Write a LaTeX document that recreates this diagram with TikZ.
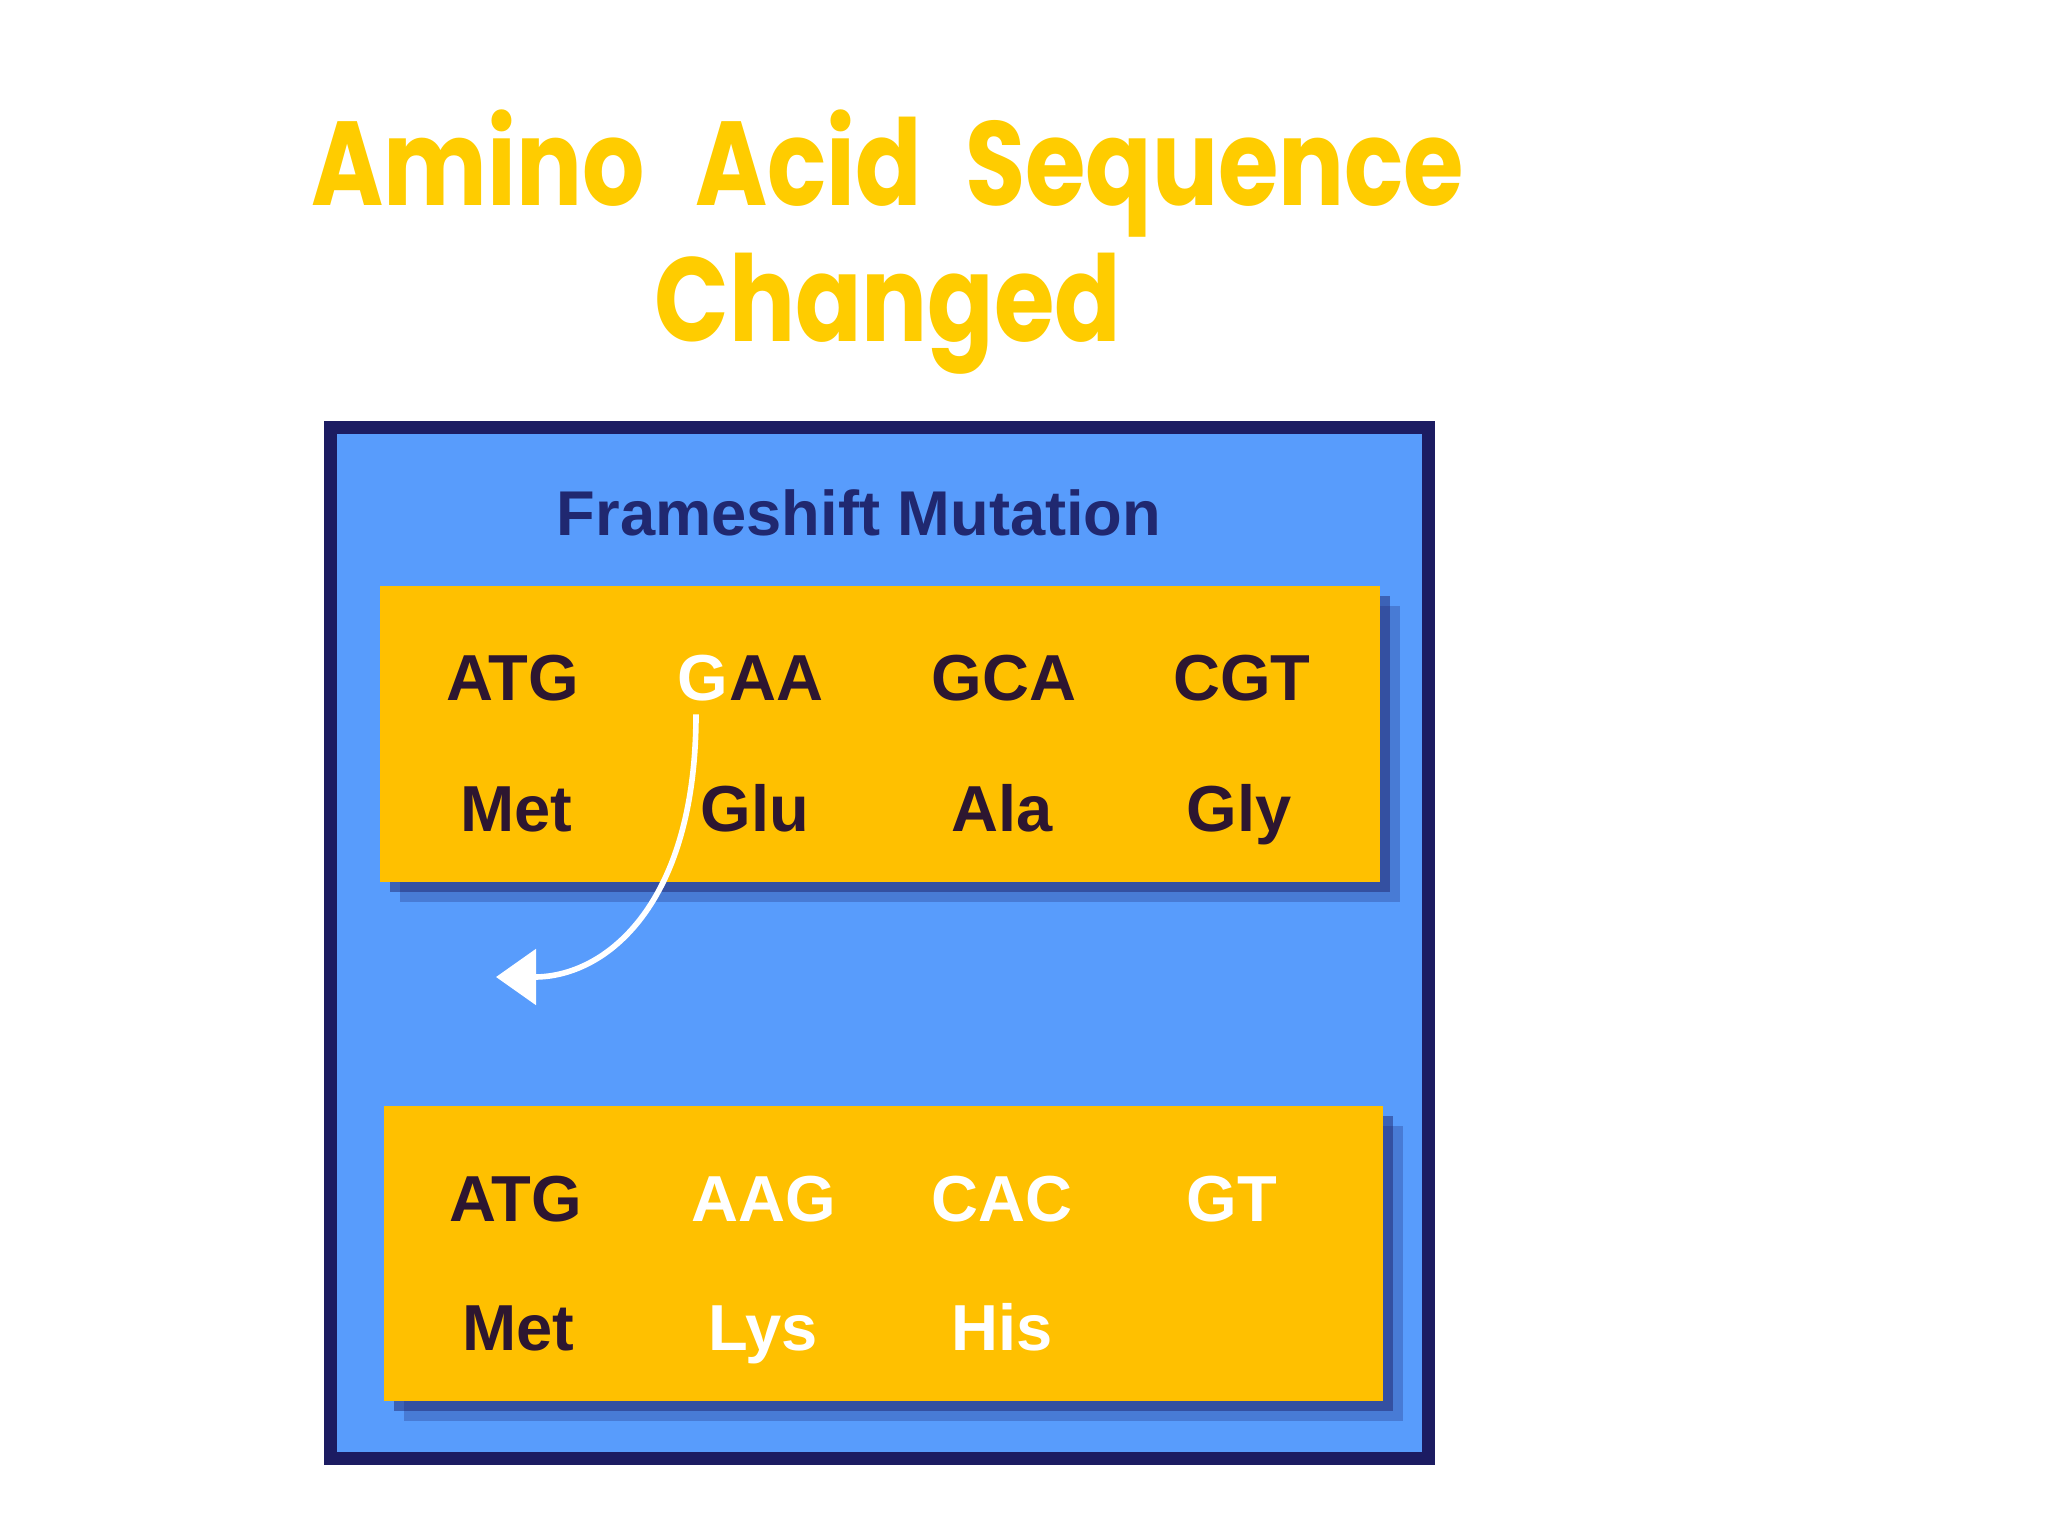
\documentclass[tikz,border=0pt]{standalone}
\usepackage{fontspec}
\setmainfont{Liberation Sans}
\newfontfamily\titlefont[FakeStretch=0.82]{Poppins}
\usetikzlibrary{arrows.meta,shadows}
\definecolor{panelblue}{RGB}{88,156,252}
\definecolor{panelnavy}{RGB}{28,28,98}
\definecolor{stripgold}{RGB}{255,192,0}
\definecolor{titlegold}{RGB}{255,204,0}
\definecolor{labelnavy}{RGB}{32,40,112}
\definecolor{basedark}{RGB}{45,22,48}

\begin{document}
\begin{tikzpicture}[>={Triangle[length=0.4cm,width=0.55cm]},
    codon/.style={font=\bfseries\fontsize{18.5}{18.5}\selectfont,text=basedark,inner sep=0pt,anchor=base},
    strip/.style={fill=stripgold,
        preaction={fill=panelnavy,fill opacity=0.25,transform canvas={shift={(0.2cm,-0.2cm)}}},
        drop shadow={fill=panelnavy,opacity=0.45,shadow xshift=0.1cm,shadow yshift=-0.1cm}},
    ]
        \useasboundingbox (0,0) rectangle (20.48,-15.36);
        \node[text=titlegold,align=center,font=\titlefont\bfseries\fontsize{34}{38.5}\selectfont] (title) at (8.88,-2.42) {Amino\hspace{0.5cm}Acid\hspace{0.43cm}Sequence\\Changed};
        \filldraw[fill=panelblue,draw=panelnavy,line width=0.13cm] (3.30,-4.28) rectangle (14.28,-14.58);
        \node[anchor=base,text=labelnavy,font=\bfseries\fontsize{18}{18}\selectfont] (heading) at (8.59,-5.35) {Frameshift Mutation};
        \fill[strip] (3.80,-5.86) rectangle (13.80,-8.82);
        \fill[strip] (3.84,-11.06) rectangle (13.83,-14.01);
        \node[codon] (atg) at (5.13,-7.01) {ATG};
        \node[codon,text=white] (mutG) at (7.03,-7.01) {G};
        \node[codon,anchor=base west] (gaa) at (mutG.base east) {AA};
        \node[codon] (gca) at (10.04,-7.01) {GCA};
        \node[codon] (cgt) at (12.42,-7.01) {CGT};
        \node[codon] (met) at (5.16,-8.31) {Met};
        \node[codon] (glu) at (7.55,-8.31) {Glu};
        \node[codon] (ala) at (10.02,-8.31) {Ala};
        \node[codon] (gly) at (12.39,-8.31) {Gly};
        \node[codon] (atgnew) at (5.16,-12.21) {ATG};
        \node[codon,text=white] (aag) at (7.64,-12.21) {AAG};
        \node[codon,text=white] (cac) at (10.02,-12.21) {CAC};
        \node[codon,text=white] (gt) at (12.32,-12.21) {GT};
        \node[codon] (metnew) at (5.18,-13.50) {Met};
        \node[codon,text=white] (lys) at (7.63,-13.50) {Lys};
        \node[codon,text=white] (his) at (10.02,-13.50) {His};
        \coordinate (shifttip) at (4.96,-9.77);
        \draw[->,white,line width=1.6pt] ([xshift=-0.07cm,yshift=-0.12cm]mutG.south) .. controls +(0,-1.9) and +(1.1,0) .. (shifttip);
    \end{tikzpicture}
\end{document}
